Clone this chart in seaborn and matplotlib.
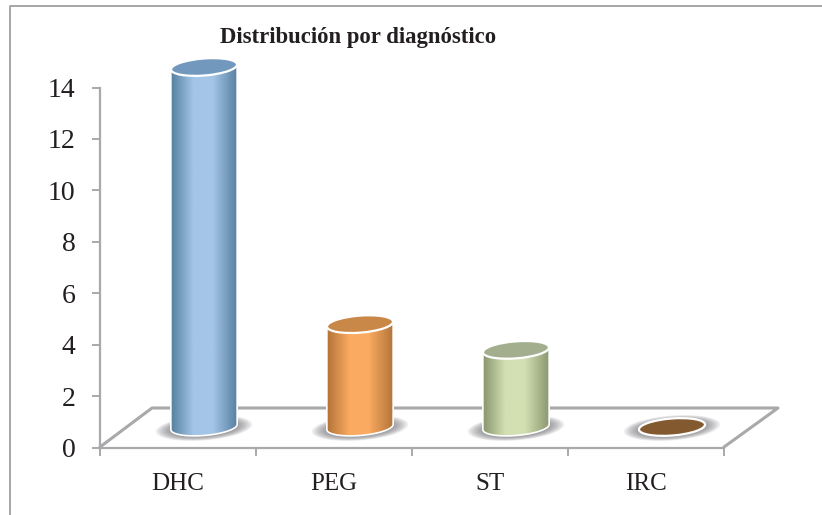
import numpy as np
import pandas as pd
import matplotlib
matplotlib.use('Agg')
import matplotlib.pyplot as plt
import seaborn as sns
from matplotlib.colors import LinearSegmentedColormap
from matplotlib.lines import Line2D
from matplotlib.patches import Ellipse, PathPatch
from matplotlib.path import Path
from matplotlib.transforms import IdentityTransform

# Chart data
categories = ['DHC', 'PEG', 'ST', 'IRC']
values = [14, 4, 3, 0]
y_ticks = [0, 2, 4, 6, 8, 10, 12, 14]

# left edge, middle, right edge, top of the cylinder
side_colors = {
    'DHC': ('#55819f', '#a4c5e8', '#577f9f', '#7299bd'),
    'PEG': ('#b37438', '#fbaa62', '#b27438', '#c98748'),
    'ST': ('#8a976f', '#d2e0b2', '#8a976f', '#a3ae8e'),
    'IRC': ('#835a2f', '#835a2f', '#835a2f', '#835a2f'),
}

W, H = 822, 515
GREY = '#a9a9ab'
TEXT = '#231f20'
SERIF = ['Liberation Serif', 'DejaVu Serif']

# depth shift of the bars from the front axis, in pixels
DX, DY = 26, 20.5
TILT = 4.5
RY = 17


def px(x, y):
    # picture pixels (origin top left) to display coords
    return x, H - y


def draw_cylinder(ax, patch, colors):
    # patch comes from the barplot, so the height follows the data scale
    (x0, y0), (x1, y1) = ax.transData.transform(
        [(patch.get_x(), 0), (patch.get_x() + patch.get_width(), patch.get_height())])
    x0, x1, y0, y1 = x0 + DX, x1 + DX, y0 + DY, y1 + DY
    cx, w = (x0 + x1) / 2, x1 - x0
    lift = np.tan(np.radians(TILT)) * w / 2

    # shadow on the floor
    for k in np.linspace(1.47, 1.0, 16):
        ax.add_patch(Ellipse((cx, y0 - 1), w * k, RY * k, angle=TILT,
                             fc='#6a6b70', ec='none', alpha=0.06,
                             transform=IdentityTransform(), zorder=2, clip_on=False))

    if y1 - y0 > 1:
        t = np.linspace(np.pi, 2 * np.pi, 40)
        bx = cx + w / 2 * np.cos(t)
        by = y0 + RY / 2 * np.sin(t) + (bx - cx) * lift / (w / 2)
        verts = list(zip(bx, by)) + [(x1, y1 + lift), (x0, y1 - lift), (bx[0], by[0])]
        body = Path(verts, closed=False)
        cmap = LinearSegmentedColormap.from_list(
            'c', [colors[0], colors[1], colors[1], colors[2]])
        grad = np.interp(np.linspace(0, 1, 100), [0, 0.42, 0.55, 1], [0, 0.42, 0.6, 1])
        im = ax.imshow(grad[None, :], cmap=cmap, aspect='auto',
                       extent=(x0, x1, y0 - RY, y1 + RY),
                       transform=IdentityTransform(), zorder=3)
        im.set_clip_box(ax.figure.bbox)
        im.set_clip_path(PathPatch(body, transform=IdentityTransform()))
        ax.add_patch(PathPatch(body, fc='none', ec='white', lw=1.2,
                               transform=IdentityTransform(), zorder=4, clip_on=False))

    ax.add_patch(Ellipse((cx, y1), w, RY, angle=TILT, fc=colors[3], ec='white', lw=1.6,
                         transform=IdentityTransform(), zorder=5, clip_on=False))


sns.set_style('white')
fig = plt.figure(figsize=(W / 100, H / 100), dpi=100, facecolor='white')
ax = fig.add_axes([100 / W, (H - 447.5) / H, 624 / W, 360 / H])

df = pd.DataFrame({'categoria': categories, 'valor': values})
sns.barplot(data=df, x='categoria', y='valor', width=0.425, color='white', ax=ax)
ax.set_xlim(-0.5, 3.5)
ax.set_ylim(0, 14)
ax.set_xlabel('')
ax.set_ylabel('')
fig.canvas.draw()

# floor of the 3D chart
floor = [px(100, 447), px(152, 408), px(778, 408), px(724, 447)]
fx, fy = zip(*floor)
ax.add_line(Line2D(fx, fy, color=GREY, lw=2.2, transform=IdentityTransform(),
                   clip_on=False, zorder=1))

for patch, cat in zip(ax.patches, categories):
    patch.set_visible(False)
    draw_cylinder(ax, patch, side_colors[cat])
ax.set_xlim(-0.5, 3.5)
ax.set_ylim(0, 14)

for s in ['top', 'right']:
    ax.spines[s].set_visible(False)
for s in ['left', 'bottom']:
    ax.spines[s].set_color(GREY)
    ax.spines[s].set_linewidth(1.6)

ax.set_yticks(y_ticks)
ax.set_xticks(range(len(categories)))
ax.set_xticklabels(categories)
ax.set_xticks(np.arange(-0.5, 4), minor=True)
ax.tick_params(axis='x', which='major', length=0, pad=18)
ax.tick_params(axis='x', which='minor', length=6, width=1.4, color=GREY, bottom=True)
ax.tick_params(axis='y', length=6, width=1.4, color=GREY, left=True, pad=11.5)
for lab in ax.get_xticklabels():
    lab.set_family(SERIF)
    lab.set_size(18)
    lab.set_color(TEXT)
for lab in ax.get_yticklabels():
    lab.set_family(SERIF)
    lab.set_size(20)
    lab.set_color(TEXT)

fig.text(358 / W, 1 - 37 / H, 'Distribución por diagnóstico', family=SERIF,
         fontsize=16.4, fontweight='bold', color=TEXT, ha='center', va='center')

# frame of the picture, only top and left are visible
fig.add_artist(Line2D([9.5 / W, 9.5 / W, 1], [0, 1 - 5.5 / H, 1 - 5.5 / H], color='#a6a6a8',
                      lw=1.4, transform=fig.transFigure))

fig.savefig('out.png', dpi=100)
